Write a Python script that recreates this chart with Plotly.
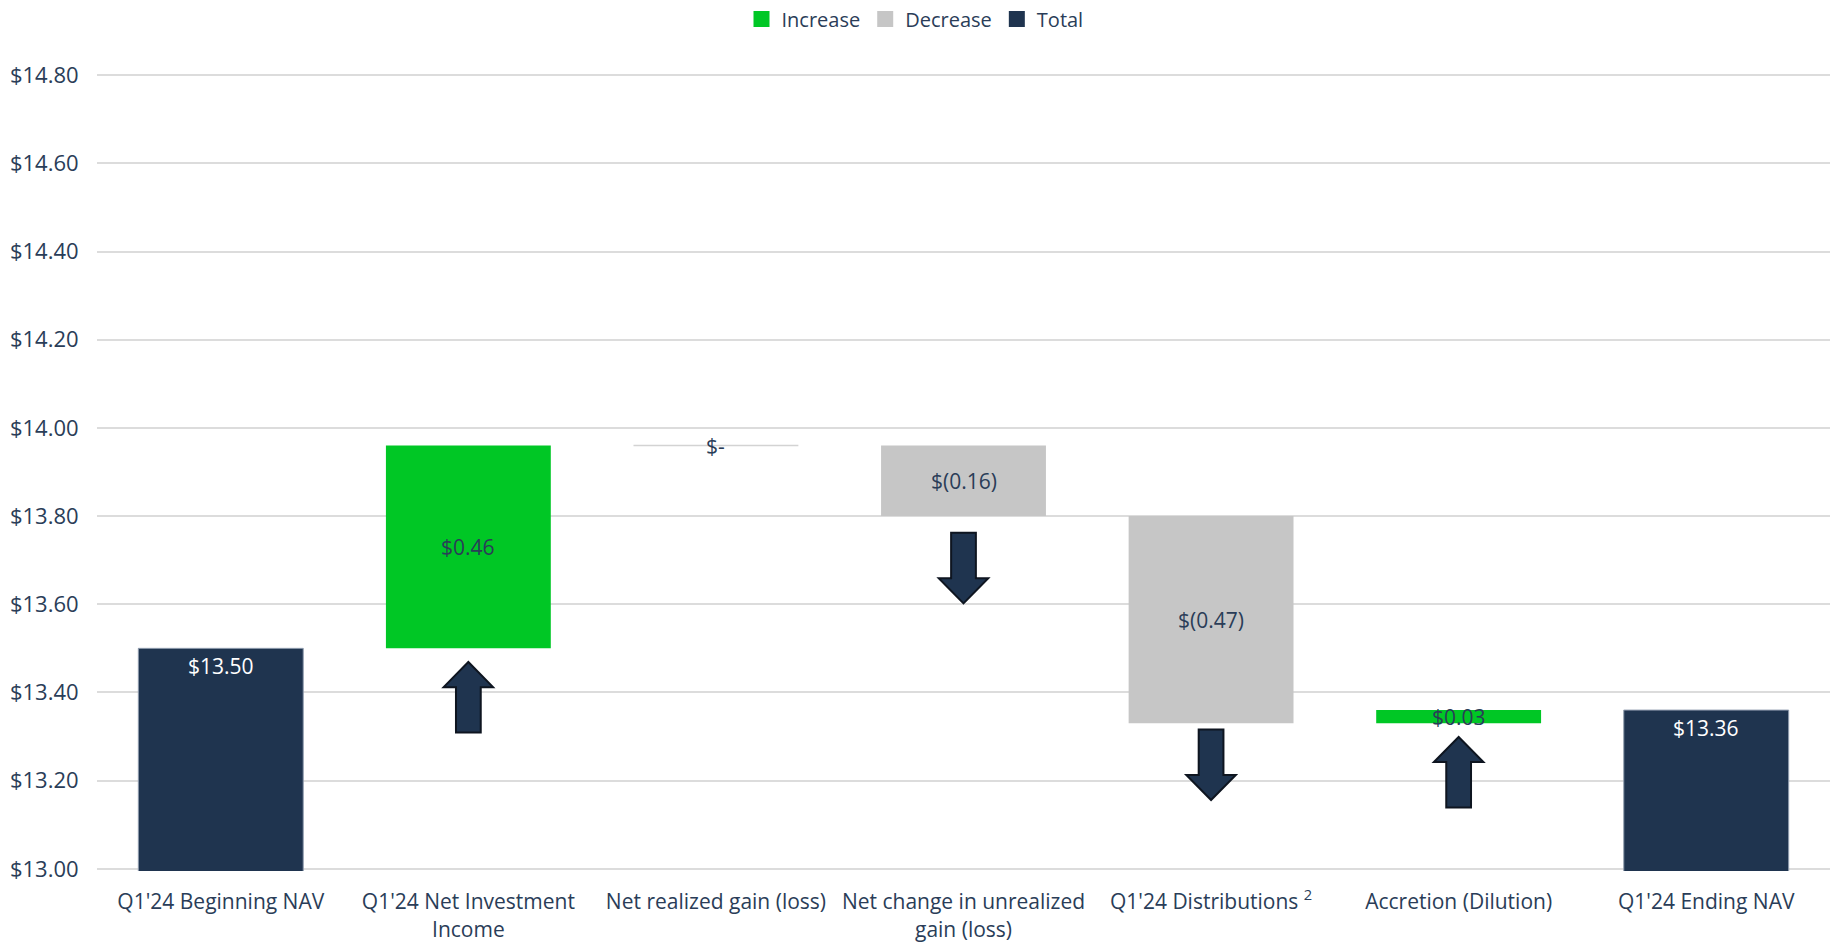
import plotly.graph_objects as go

categories = [
    "Q1'24 Beginning NAV",
    "Q1'24 Net Investment<br>Income",
    "Net realized gain (loss)",
    "Net change in unrealized<br>gain (loss)",
    "Q1'24 Distributions <sup>2</sup>",
    "Accretion (Dilution)",
    "Q1'24 Ending NAV",
]
measures = ["total", "relative", "relative", "relative", "relative", "relative", "total"]
values = [13.50, 0.46, 0.00, -0.16, -0.47, 0.03, 13.36]
value_labels = ["$13.50", "$0.46", "$-", "$(0.16)", "$(0.47)", "$0.03", "$13.36"]
y_ticks = [13.0, 13.2, 13.4, 13.6, 13.8, 14.0, 14.2, 14.4, 14.6, 14.8]
y_tick_labels = ["$13.00", "$13.20", "$13.40", "$13.60", "$13.80", "$14.00",
                 "$14.20", "$14.40", "$14.60", "$14.80"]

GREEN = "#00C725"
GREY = "#C6C6C6"
NAVY = "#1F344F"
TEXT = "#2A3D58"
FONT = "Open Sans"
BAR_W = 0.666

# running totals
bases, tops = [], []
running = 0.0
for m, v in zip(measures, values):
    if m == "total":
        bases.append(0.0)
        running = v
        tops.append(v)
    else:
        bases.append(running)
        running += v
        tops.append(running)

fig = go.Figure()

def add_series(name, color, pick, outline):
    xs, ys, bs = [], [], []
    for i, c in enumerate(categories):
        if pick(i):
            xs.append(i)
            ys.append(tops[i] - bases[i])
            bs.append(bases[i])
    fig.add_trace(go.Bar(
        x=xs, y=ys, base=bs, name=name, marker_color=color, width=BAR_W,
        marker_line=dict(width=1 if outline else 0, color=outline or color),
        hoverinfo="skip", showlegend=False,
    ))
    # legend entry with a larger square swatch
    fig.add_trace(go.Scatter(
        x=[None], y=[None], mode="markers", name=name,
        marker=dict(symbol="square", size=17, color=color), hoverinfo="skip",
    ))

add_series("Increase", GREEN, lambda i: measures[i] == "relative" and values[i] > 0, None)
add_series("Decrease", GREY, lambda i: measures[i] == "relative" and values[i] < 0, None)
add_series("Total", NAVY, lambda i: measures[i] == "total", "#8F9CAE")

half = BAR_W / 2
# zero-change bar drawn as a thin line
for i, (m, v) in enumerate(zip(measures, values)):
    if m == "relative" and v == 0:
        fig.add_shape(type="line", xref="x", yref="y", x0=i - half, x1=i + half,
                      y0=tops[i], y1=tops[i], line=dict(color="#D3D3D3", width=1.5),
                      layer="below")

# labels
for i, (m, v) in enumerate(zip(measures, values)):
    txt = value_labels[i].replace("$", "&#36;")
    if m == "total":
        fig.add_annotation(x=i, y=tops[i], text=txt, showarrow=False,
                           yanchor="top", yshift=-2,
                           font=dict(family=FONT, size=21, color="white"))
    else:
        fig.add_annotation(x=i, y=(bases[i] + tops[i]) / 2, text=txt,
                           showarrow=False, yanchor="middle",
                           font=dict(family=FONT, size=21, color=TEXT))

# block arrows below the change bars
gaps = {1: 0.031, 3: 0.038, 4: 0.014, 5: 0.031}
arrow_len = 0.16
head_len = 0.057
head_w = 0.10
shaft_w = 0.05
for i, gap in gaps.items():
    bottom = min(bases[i], tops[i])
    top_y = bottom - gap
    bot_y = top_y - arrow_len
    if values[i] > 0:  # up arrow, tip at top
        pts = [(i - shaft_w, bot_y), (i - shaft_w, top_y - head_len), (i - head_w, top_y - head_len),
               (i, top_y), (i + head_w, top_y - head_len), (i + shaft_w, top_y - head_len),
               (i + shaft_w, bot_y)]
    else:  # down arrow, tip at bottom
        pts = [(i - shaft_w, top_y), (i - shaft_w, bot_y + head_len), (i - head_w, bot_y + head_len),
               (i, bot_y), (i + head_w, bot_y + head_len), (i + shaft_w, bot_y + head_len),
               (i + shaft_w, top_y)]
    path = "M " + " L ".join(f"{x},{y}" for x, y in pts) + " Z"
    fig.add_shape(type="path", path=path, xref="x", yref="y",
                  fillcolor=NAVY, line=dict(color="#0E1520", width=2), layer="above")

fig.update_layout(
    width=1830, height=946,
    barmode="overlay",
    plot_bgcolor="white", paper_bgcolor="white",
    margin=dict(l=97, r=0, t=73, b=75, autoexpand=False),
    font=dict(family=FONT, size=21, color=TEXT),
    showlegend=True,
    legend=dict(orientation="h", x=0.5, xanchor="center", xref="container",
                y=1 - 19 / 946, yref="container", yanchor="middle",
                font=dict(family=FONT, size=20, color=TEXT),
                itemclick=False, itemdoubleclick=False, itemwidth=30,
                tracegroupgap=0),
    xaxis=dict(tickmode="array", tickvals=list(range(len(categories))), ticktext=categories,
               range=[-0.5, len(categories) - 0.5], showgrid=False, zeroline=False,
               showline=False, ticks="outside", ticklen=12, tickcolor="rgba(0,0,0,0)",
               tickfont=dict(family=FONT, size=21, color=TEXT), automargin=False),
    yaxis=dict(range=[12.995, 14.805], tickmode="array", tickvals=y_ticks, ticktext=y_tick_labels,
               showgrid=True, gridcolor="#DCDCDC", gridwidth=2, zeroline=False, showline=False,
               ticks="outside", ticklen=13, tickcolor="rgba(0,0,0,0)",
               tickfont=dict(family=FONT, size=22, color=TEXT), automargin=False),
)

fig.write_html(
    "out.html",
    config={"displayModeBar": False},
    post_script="document.body.style.margin='0';document.body.style.overflow='hidden';",
)
